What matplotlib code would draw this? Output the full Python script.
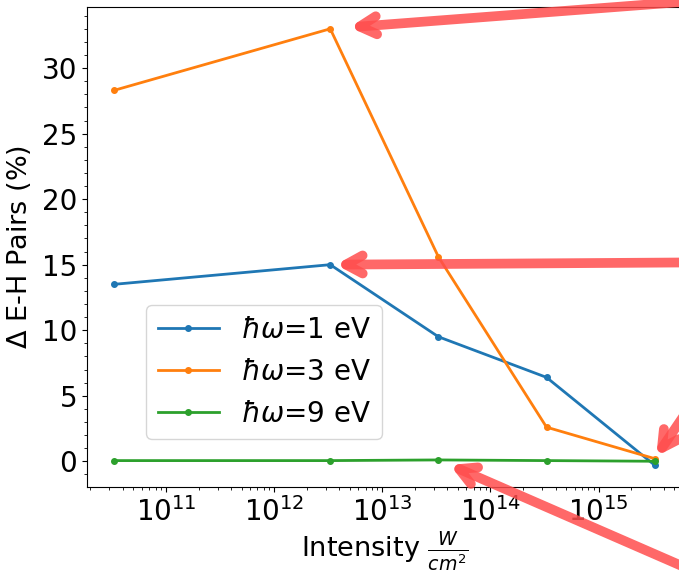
import matplotlib
matplotlib.use('Agg')
import matplotlib.pyplot as plt

# intensidades (W/cm^2) y cambio en pares electron-hueco (%)
intensidad = [3.3e10, 3.3e12, 3.3e13, 3.3e14, 3.3e15]
pares_1ev = [13.5, 15.0, 9.5, 6.4, -0.3]
pares_3ev = [28.3, 33.0, 15.6, 2.6, 0.2]
pares_9ev = [0.05, 0.05, 0.1, 0.05, 0.0]
etiquetas = [r'$\hbar\omega$=1 eV', r'$\hbar\omega$=3 eV', r'$\hbar\omega$=9 eV']

fig = plt.figure(figsize=(6.79, 5.72), dpi=100)
ax = fig.add_axes([0.128, 0.1486, 0.876, 0.8392])

for serie, lab in zip([pares_1ev, pares_3ev, pares_9ev], etiquetas):
    ax.plot(intensidad, serie, marker='o', markersize=4, linewidth=2, label=lab)

ax.set_xscale('log')
ax.minorticks_on()
ax.tick_params(labelsize=20)
ax.set_xlabel(r'Intensity $\frac{W}{cm^2}$', fontsize=19.5, labelpad=2)
ax.set_ylabel(r'$\Delta$ E-H Pairs (%)', fontsize=19.5, labelpad=6)
ax.legend(fontsize=20, loc='lower left', bbox_to_anchor=(0.1, 0.1), borderaxespad=0,
          handlelength=2.2)

# flechas rojas de resaltado
rojo = (1.0, 0.3, 0.3, 0.85)
estilo = dict(arrowstyle='->,head_length=1.2,head_width=0.65', color=rojo, lw=7,
              shrinkA=0, capstyle='round', joinstyle='round')
flechas = [
    ((intensidad[1], pares_3ev[1]), (760, 576), 14),
    ((intensidad[1], pares_1ev[1]), (760, 310), 4),
    ((intensidad[4], pares_3ev[4]), (700, 180), 2),
    ((intensidad[2], pares_9ev[2]), (760, -28), 9),
]
for punto, origen, enc in flechas:
    ax.annotate('', xy=punto, xycoords='data', xytext=origen, textcoords='figure pixels',
                arrowprops=dict(estilo, shrinkB=enc), annotation_clip=False)

fig.savefig('out.png', dpi=100)
